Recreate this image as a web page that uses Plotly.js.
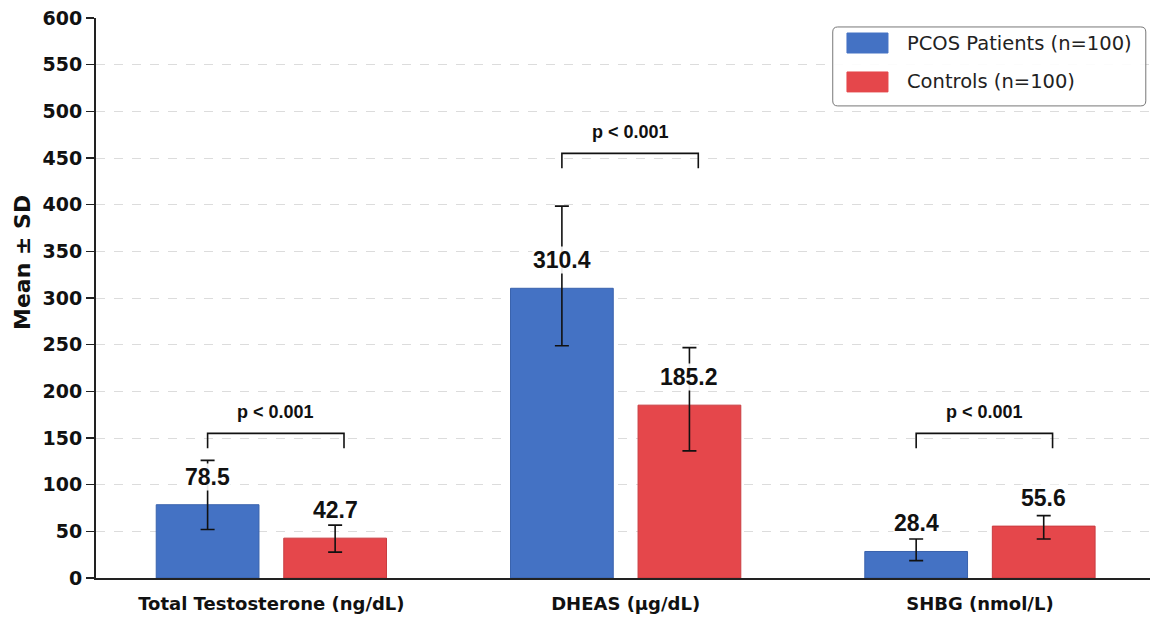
<!DOCTYPE html>
<html>
<head>
<meta charset="utf-8">
<script src="https://cdn.plot.ly/plotly-3.0.1.min.js"></script>
<style>html,body{margin:0;padding:0;background:#fff;}#chart{width:1151px;height:618px;}</style>
</head>
<body>
<div id="chart"></div>
<script>
// ---- data ----
const categories = ["Total Testosterone (ng/dL)", "DHEAS (\u00b5g/dL)", "SHBG (nmol/L)"];
const seriesNames = ["PCOS Patients (n=100)", "Controls (n=100)"];
const pcosMean = [78.5, 310.4, 28.4];
const ctrlMean = [42.7, 185.2, 55.6];
const pcosErrPlus = [47.5, 88.0, 13.4];
const pcosErrMinus = [26.5, 61.5, 9.8];
const ctrlErrPlus = [14.0, 61.6, 11.2];
const ctrlErrMinus = [15.0, 49.0, 13.8];
const pLabels = ["p < 0.001", "p < 0.001", "p < 0.001"];
const bracketY = [155, 455, 155];
const yTicks = [0, 50, 100, 150, 200, 250, 300, 350, 400, 450, 500, 550, 600];
const yTitle = "Mean \u00b1 SD";

// ---- style ----
const BLUE = "#4472C4", RED = "#E5474B";
const barW = 0.29, offBlue = -0.325, offRed = 0.035;
const labelLift = 30;
const xs = categories.map((c, i) => i);

const traces = [
  {
    type: "bar", name: seriesNames[0], x: xs, y: pcosMean,
    width: barW, offset: offBlue,
    marker: {color: BLUE, line: {color: "#3a63ad", width: 1}},
    error_y: {type: "data", symmetric: false, array: pcosErrPlus, arrayminus: pcosErrMinus,
              color: "#111", thickness: 1.6, width: 7},
    showlegend: false, hoverinfo: "y"
  },
  {
    type: "bar", name: seriesNames[1], x: xs, y: ctrlMean,
    width: barW, offset: offRed,
    marker: {color: RED, line: {color: "#c93c40", width: 1}},
    error_y: {type: "data", symmetric: false, array: ctrlErrPlus, arrayminus: ctrlErrMinus,
              color: "#111", thickness: 1.6, width: 7},
    showlegend: false, hoverinfo: "y"
  }
];

const annotations = [];
const shapes = [];
const barLabelFont = {family: "Liberation Sans, Arial, sans-serif", size: 23, weight: "bold", color: "#111"};
xs.forEach(i => {
  annotations.push({x: i + offBlue + barW / 2, y: pcosMean[i] + labelLift, xref: "x", yref: "y",
    text: pcosMean[i].toFixed(1), showarrow: false, font: barLabelFont, bgcolor: "rgba(255,255,255,0.9)", borderpad: 0});
  annotations.push({x: i + offRed + barW / 2, y: ctrlMean[i] + labelLift, xref: "x", yref: "y",
    text: ctrlMean[i].toFixed(1), showarrow: false, font: barLabelFont, bgcolor: "rgba(255,255,255,0.9)", borderpad: 0});
  const bx0 = i + offBlue + barW / 2, bx1 = i + 0.205, by = bracketY[i];
  shapes.push({type: "path", xref: "x", yref: "y",
    path: `M ${bx0},${by - 16} L ${bx0},${by} L ${bx1},${by} L ${bx1},${by - 16}`,
    line: {color: "#111", width: 1.6}});
  annotations.push({x: (bx0 + bx1) / 2, y: by, xref: "x", yref: "y", yanchor: "middle", yshift: 21,
    text: pLabels[i], showarrow: false,
    font: {family: "Liberation Sans, Arial, sans-serif", size: 18, weight: "bold", color: "#111"}});
});

// y-axis title (placed as annotation to match reference position)
annotations.push({xref: "paper", yref: "paper", x: -0.0702, y: 0.5625, textangle: -90,
  xanchor: "center", yanchor: "middle", text: yTitle, showarrow: false,
  font: {family: "DejaVu Sans, sans-serif", size: 22, weight: "bold", color: "#111"}});

// custom legend (large swatches), rounded frame
const legendFont = {family: "DejaVu Sans, sans-serif", size: 19.5, color: "#222"};
const lx0 = 0.699, lx1 = 0.996, ly0 = 0.843, ly1 = 0.984, rx = 5 / 1054, ry = 5 / 560;
shapes.push({type: "path", xref: "paper", yref: "paper",
  path: `M ${lx0 + rx},${ly0} L ${lx1 - rx},${ly0} Q ${lx1},${ly0} ${lx1},${ly0 + ry} L ${lx1},${ly1 - ry} Q ${lx1},${ly1} ${lx1 - rx},${ly1} L ${lx0 + rx},${ly1} Q ${lx0},${ly1} ${lx0},${ly1 - ry} L ${lx0},${ly0 + ry} Q ${lx0},${ly0} ${lx0 + rx},${ly0} Z`,
  line: {color: "#777", width: 1}, fillcolor: "rgba(255,255,255,0.9)", layer: "above"});
const swatchY = [[0.9375, 0.9732], [0.868, 0.9036]];
const swatchCol = [BLUE, RED];
seriesNames.forEach((n, k) => {
  shapes.push({type: "rect", xref: "paper", yref: "paper", x0: 0.7125, x1: 0.7514,
    y0: swatchY[k][0], y1: swatchY[k][1], fillcolor: swatchCol[k], line: {color: swatchCol[k], width: 1}, layer: "above"});
  annotations.push({xref: "paper", yref: "paper", x: 0.7676, y: (swatchY[k][0] + swatchY[k][1]) / 2,
    xanchor: "left", yanchor: "middle", text: n, showarrow: false, font: legendFont});
});

const layout = {
  width: 1151, height: 618,
  margin: {l: 96, r: 1, t: 18, b: 40},
  paper_bgcolor: "#fff", plot_bgcolor: "#fff",
  xaxis: {
    range: [-0.495, 2.48], tickvals: xs, ticktext: categories,
    showgrid: false, zeroline: false, showline: true, linecolor: "#222", linewidth: 2,
    ticks: "", ticklen: 0, ticklabelstandoff: 8,
    tickfont: {family: "DejaVu Sans, sans-serif", size: 18, weight: "bold", color: "#111"}
  },
  yaxis: {
    range: [0, 600], tickvals: yTicks, ticktext: yTicks.map(String),
    showgrid: true, gridcolor: "#dcdcdc", griddash: "dash", gridwidth: 1,
    zeroline: false, showline: true, linecolor: "#222", linewidth: 2,
    ticks: "outside", ticklen: 8, tickwidth: 1.6, tickcolor: "#222",
    tickfont: {family: "DejaVu Sans, sans-serif", size: 19, weight: "bold", color: "#111"}
  },
  bargap: 0, showlegend: false,
  annotations: annotations, shapes: shapes
};

Plotly.newPlot("chart", traces, layout, {displayModeBar: false, staticPlot: true});
</script>
</body>
</html>
